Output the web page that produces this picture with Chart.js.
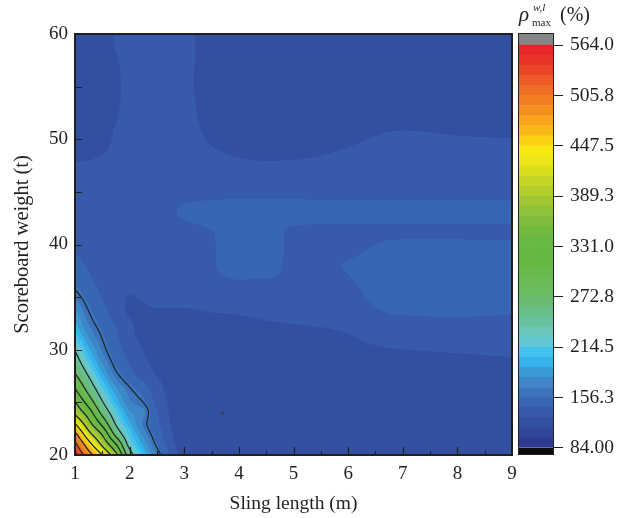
<!DOCTYPE html>
<html>
<head>
<meta charset="utf-8">
<script src="https://cdn.jsdelivr.net/npm/chart.js@4.4.0/dist/chart.umd.min.js"></script>
<style>
  html, body { margin: 0; padding: 0; background: #fff; }
  #wrap { position: relative; width: 627px; height: 518px; }
  #main { position: absolute; left: 0; top: 0; }
  #bar { position: absolute; left: 505px; top: 0; }
</style>
</head>
<body>
<div id="wrap">
  <canvas id="main" width="627" height="518"></canvas>
  <canvas id="bar" width="122" height="518"></canvas>
</div>
<script>
// grid nodes of the contour map
const slingLength = [1, 1.25, 1.5, 1.75, 2, 2.25, 2.5, 3, 3.5, 4, 4.5, 5, 6, 7, 8, 9];
const scoreboardWeight = [20, 21, 22, 23, 24, 25, 26, 28, 30, 32, 34, 36, 38, 40, 41, 43, 45, 47, 50, 55, 60];

// rho_max (%), one row per scoreboard weight (bottom to top)
const rhoMax = [
  [560, 497, 440, 372, 257, 203, 168, 124, 117, 115, 115, 116, 116, 116, 116, 116], // 20
  [530, 456, 393, 322, 228, 188, 157, 120, 116, 115, 116, 116, 117, 117, 117, 117], // 21
  [489, 413, 355, 267, 210, 175, 150, 118, 115, 115, 116, 116, 117, 118, 118, 117], // 22
  [440, 374, 308, 236, 194, 166, 145, 117, 115, 115, 116, 117, 118, 119, 119, 118], // 23
  [394, 340, 270, 218, 182, 170, 142, 117, 115, 115, 116, 117, 119, 120, 120, 119], // 24
  [363, 303, 243, 200, 170, 160, 138, 117, 115, 116, 117, 118, 120, 121, 121, 120], // 25
  [330, 273, 223, 186, 164, 152, 134, 117, 116, 117, 118, 119, 121, 122, 122, 122], // 26
  [275, 229, 188, 160, 145, 133, 126, 118, 118, 119, 120, 121, 123, 124.5, 125, 125.5], // 28
  [238, 195, 166, 148, 136, 127, 122, 120, 121, 122, 123, 124, 126, 127.3, 128, 128.5], // 30
  [200, 171, 155, 142, 130, 123, 121, 123, 124, 125, 126, 126.5, 128, 133, 134, 133], // 32
  [178, 158, 145, 134, 126, 126.5, 127.5, 127.5, 128.5, 129, 130, 131, 136, 146, 147, 145], // 34
  [158, 147, 138, 130, 128.5, 129.5, 130, 131, 134, 137, 137, 135, 140, 150, 150, 149], // 36
  [148, 140, 134, 130, 130, 131, 131, 134, 140, 150, 149, 138, 142.5, 150, 150, 149], // 38
  [139, 135, 131, 130, 130, 131, 132, 135, 140.5, 150, 149, 139, 138, 146, 146, 145], // 40
  [137, 136, 133, 132, 132, 132, 133, 136, 141, 149, 148, 139, 137, 138, 138, 138], // 41
  [135, 135, 135, 135, 135, 136, 137, 143.5, 147, 148, 148, 147, 147, 147, 147, 146], // 43
  [133, 134, 134, 134, 135, 136, 137, 138, 138, 138, 138, 138, 138, 138, 138, 138], // 45
  [129, 130, 131, 132, 133, 134, 134, 135, 134, 132, 131, 131, 132, 133, 133, 133], // 47
  [124, 123, 124, 129, 132, 133, 133, 132, 126, 122, 121, 122, 126, 129, 128, 127.5], // 50
  [122, 121, 121, 125, 131, 133, 133, 131, 120, 118, 118, 118, 118, 119, 119, 119], // 55
  [122, 121, 121, 129, 132, 132, 132, 131, 120, 118, 118, 118, 118, 118, 118, 119]  // 60
];

// black contour levels
const contourLevels = [160, 240, 280, 320, 360, 400, 440, 480, 520, 550];

// small marker inside the map
const markerPoints = [{ x: 3.7, y: 24 }];

// colour bar tick values / labels
const barTickValues = [84, 156.3, 214.5, 272.8, 331.0, 389.3, 447.5, 505.8, 564.0];
const barTickLabels = ['84.00', '156.3', '214.5', '272.8', '331.0', '389.3', '447.5', '505.8', '564.0'];
const bandsPerTick = 5;

// colour bands, bottom to top
const bandColors = [
  '#2d3c90', '#304597', '#334f9f', '#375aaa', '#3966b2',
  '#3b74bb', '#3d87c6', '#3a9ad4', '#35b2ea', '#42c0ee',
  '#62c7d2', '#6bc5b8', '#6ac1a0', '#68be88', '#6abc70',
  '#6abb62', '#6aba55', '#66b94a', '#64b842', '#64b842',
  '#68b941', '#72ba3f', '#80bd3c', '#8fc139', '#a0c633',
  '#b3cd2c', '#c6d525', '#dade1e', '#ede619', '#f7e814',
  '#fbd012', '#f9b818', '#f7a31c', '#f48f1f', '#f27e22',
  '#f06d25', '#ee5a27', '#ec4526', '#ea3328', '#e8262a'
];
const underColor = '#0a0a0a';
const overColor = '#858585';

const serif = 'Liberation Serif, Times New Roman, serif';
const ink = '#231f20';

function hexRgb(h) {
  return [parseInt(h.slice(1, 3), 16), parseInt(h.slice(3, 5), 16), parseInt(h.slice(5, 7), 16)];
}

function locate(arr, v) {
  let i = 0;
  while (i < arr.length - 2 && v > arr[i + 1]) i++;
  const t = (v - arr[i]) / (arr[i + 1] - arr[i]);
  return [i, Math.max(0, Math.min(1, t))];
}

// monotone cubic (Fritsch-Carlson) slopes on an uneven grid
function slopes(xs, ys) {
  const n = xs.length, d = [], m = new Array(n);
  for (let i = 0; i < n - 1; i++) d.push((ys[i + 1] - ys[i]) / (xs[i + 1] - xs[i]));
  m[0] = d[0];
  m[n - 1] = d[n - 2];
  for (let i = 1; i < n - 1; i++) {
    if (d[i - 1] * d[i] <= 0) { m[i] = 0; continue; }
    const h0 = xs[i] - xs[i - 1], h1 = xs[i + 1] - xs[i];
    const w1 = 2 * h1 + h0, w2 = h1 + 2 * h0;
    m[i] = (w1 + w2) / (w1 / d[i - 1] + w2 / d[i]);
  }
  return m;
}

function hermite(xs, ys, m, x) {
  const [i, t] = locate(xs, x);
  const h = xs[i + 1] - xs[i];
  const t2 = t * t, t3 = t2 * t;
  return (2 * t3 - 3 * t2 + 1) * ys[i] + (t3 - 2 * t2 + t) * h * m[i] +
         (-2 * t3 + 3 * t2) * ys[i + 1] + (t3 - t2) * h * m[i + 1];
}

// value -> band index (-1 under, bandColors.length over)
function bandOf(v) {
  const n = barTickValues.length;
  if (v < barTickValues[0]) return -1;
  if (v > barTickValues[n - 1]) return bandColors.length;
  for (let i = 0; i < n - 1; i++) {
    if (v <= barTickValues[i + 1]) {
      const f = (v - barTickValues[i]) / (barTickValues[i + 1] - barTickValues[i]);
      return Math.min(bandColors.length - 1, Math.floor((i + f) * bandsPerTick));
    }
  }
  return bandColors.length - 1;
}

const contourField = {
  id: 'contourField',
  beforeDatasetsDraw(chart) {
    const { ctx, chartArea: area, scales: { x: xs, y: ys } } = chart;
    const left = Math.round(area.left), top = Math.round(area.top);
    const w = Math.round(area.right) - left, h = Math.round(area.bottom) - top;
    const rgb = bandColors.map(hexRgb);
    const under = hexRgb(underColor), over = hexRgb(overColor);
    const img = ctx.createImageData(w, h);
    const yv = [];
    for (let py = 0; py < h; py++) yv.push(ys.getValueForPixel(top + py + 0.5));
    const rowSlopes = rhoMax.map(r => slopes(slingLength, r));
    const field = new Float32Array(w * h);
    for (let px = 0; px < w; px++) {
      const xv = xs.getValueForPixel(left + px + 0.5);
      const col = rhoMax.map((r, j) => hermite(slingLength, r, rowSlopes[j], xv));
      const cm = slopes(scoreboardWeight, col);
      for (let py = 0; py < h; py++) {
        const v = hermite(scoreboardWeight, col, cm, yv[py]);
        field[py * w + px] = v;
        const b = bandOf(v);
        const c = b < 0 ? under : (b >= rgb.length ? over : rgb[b]);
        const k = (py * w + px) * 4;
        img.data[k] = c[0]; img.data[k + 1] = c[1]; img.data[k + 2] = c[2]; img.data[k + 3] = 255;
      }
    }
    ctx.putImageData(img, left, top);

    // contour lines (marching squares on a 2px lattice)
    const step = 2;
    const nx = Math.floor((w - 1) / step) + 1, ny = Math.floor((h - 1) / step) + 1;
    const F = (i, j) => field[(j * step) * w + i * step];
    ctx.save();
    ctx.beginPath();
    ctx.rect(area.left, area.top, area.right - area.left, area.bottom - area.top);
    ctx.clip();
    ctx.strokeStyle = '#1c2828';
    ctx.lineWidth = 1.3;
    contourLevels.forEach(level => {
      ctx.beginPath();
      for (let j = 0; j < ny - 1; j++) {
        for (let i = 0; i < nx - 1; i++) {
          const v0 = F(i, j), v1 = F(i + 1, j), v2 = F(i + 1, j + 1), v3 = F(i, j + 1);
          let c = 0;
          if (v0 > level) c |= 8;
          if (v1 > level) c |= 4;
          if (v2 > level) c |= 2;
          if (v3 > level) c |= 1;
          if (c === 0 || c === 15) continue;
          const x0 = left + i * step + 0.5, x1 = x0 + step;
          const y0 = top + j * step + 0.5, y1 = y0 + step;
          const T = () => [x0 + (level - v0) / (v1 - v0) * step, y0];
          const R = () => [x1, y0 + (level - v1) / (v2 - v1) * step];
          const B = () => [x0 + (level - v3) / (v2 - v3) * step, y1];
          const L = () => [x0, y0 + (level - v0) / (v3 - v0) * step];
          const seg = (p, q) => { ctx.moveTo(p[0], p[1]); ctx.lineTo(q[0], q[1]); };
          switch (c) {
            case 1: case 14: seg(L(), B()); break;
            case 2: case 13: seg(B(), R()); break;
            case 3: case 12: seg(L(), R()); break;
            case 4: case 11: seg(T(), R()); break;
            case 6: case 9: seg(T(), B()); break;
            case 7: case 8: seg(T(), L()); break;
            case 5: seg(T(), R()); seg(L(), B()); break;
            case 10: seg(T(), L()); seg(B(), R()); break;
          }
        }
      }
      ctx.stroke();
    });
    ctx.restore();
  },
  afterDatasetsDraw(chart) {
    const { ctx, chartArea: a, scales: { x: xs, y: ys } } = chart;
    ctx.save();
    ctx.strokeStyle = ink;
    ctx.lineWidth = 1.2;
    ctx.beginPath();
    for (let v = 1.5; v < 9; v += 0.5) {
      const px = Math.round(xs.getPixelForValue(v)) + 0.5;
      const len = Number.isInteger(v) ? 8 : 4;
      ctx.moveTo(px, a.bottom);
      ctx.lineTo(px, a.bottom - len);
    }
    for (let v = 25; v < 60; v += 5) {
      const py = Math.round(ys.getPixelForValue(v)) + 0.5;
      ctx.moveTo(a.left, py);
      ctx.lineTo(a.left + 7, py);
    }
    ctx.stroke();
    ctx.lineWidth = 2;
    ctx.strokeRect(a.left, a.top, a.right - a.left, a.bottom - a.top);
    ctx.restore();
  }
};

new Chart(document.getElementById('main'), {
  type: 'scatter',
  data: {
    datasets: [{
      data: markerPoints,
      pointStyle: 'triangle',
      radius: 2.5,
      backgroundColor: '#3a3f55',
      borderWidth: 0
    }]
  },
  options: {
    responsive: false,
    animation: false,
    layout: { padding: { top: 34, right: 115, left: 0, bottom: 0 } },
    plugins: { legend: { display: false }, tooltip: { enabled: false } },
    scales: {
      x: {
        type: 'linear', min: 1, max: 9,
        grid: { display: false, drawTicks: false },
        border: { display: false },
        ticks: { stepSize: 1, color: ink, padding: 8, maxRotation: 0, font: { family: serif, size: 19 } },
        title: { display: true, text: 'Sling length (m)', color: ink, padding: { top: 0, bottom: 2 }, font: { family: serif, size: 19.5 } },
        afterFit(s) { s.height = 63; }
      },
      y: {
        type: 'linear', min: 20, max: 60,
        grid: { display: false, drawTicks: false },
        border: { display: false },
        ticks: { stepSize: 10, color: ink, padding: 7, font: { family: serif, size: 19 } },
        title: { display: true, text: 'Scoreboard weight (t)', color: ink, padding: { top: 10, bottom: 0 }, font: { family: serif, size: 20.5 } },
        afterFit(s) { s.width = 75; }
      }
    }
  },
  plugins: [contourField]
});

// colour bar
const barFrame = {
  id: 'barFrame',
  afterDatasetsDraw(chart) {
    const { ctx, chartArea: a } = chart;
    ctx.save();
    ctx.strokeStyle = ink;
    ctx.lineWidth = 1;
    ctx.strokeRect(a.left + 0.5, a.top + 0.5, a.right - a.left - 1, a.bottom - a.top - 1);
    // title: rho^{w,l}_{max} (%)
    ctx.fillStyle = ink;
    ctx.textBaseline = 'alphabetic';
    ctx.font = 'italic 21px ' + serif;
    ctx.fillText('\u03c1', a.left + 1, 21);
    ctx.font = 'italic 11px ' + serif;
    ctx.fillText('w,l', a.left + 15, 11);
    ctx.font = '11px ' + serif;
    ctx.fillText('max', a.left + 14, 26);
    ctx.font = '20px ' + serif;
    ctx.fillText('(%)', a.left + 42, 21);
    ctx.restore();
  }
};

const barDatasets = [{ data: [-0.7], backgroundColor: underColor }];
bandColors.forEach(c => barDatasets.push({ data: [1], backgroundColor: c }));
barDatasets.push({ data: [1.2], backgroundColor: overColor });
barDatasets.forEach(d => { d.borderWidth = 0; d.barPercentage = 1; d.categoryPercentage = 1; });

new Chart(document.getElementById('bar'), {
  type: 'bar',
  data: { labels: [''], datasets: barDatasets },
  options: {
    responsive: false,
    animation: false,
    layout: { padding: { top: 33, left: 13, right: 0, bottom: 0 } },
    plugins: { legend: { display: false }, tooltip: { enabled: false } },
    scales: {
      x: { stacked: true, display: false, afterFit(s) { s.height = 63; } },
      y: {
        stacked: true, position: 'right', min: -0.7, max: 41.2,
        grid: { drawOnChartArea: false, drawTicks: true, tickLength: 9, color: ink, lineWidth: 1 },
        border: { display: false },
        afterBuildTicks(s) { s.ticks = barTickValues.map((_, i) => ({ value: i * bandsPerTick })); },
        ticks: {
          autoSkip: false, padding: 7, color: ink, font: { family: serif, size: 19.5 },
          callback: (v, i) => barTickLabels[i]
        },
        afterFit(s) { s.width = 73; }
      }
    }
  },
  plugins: [barFrame]
});
</script>
</body>
</html>
